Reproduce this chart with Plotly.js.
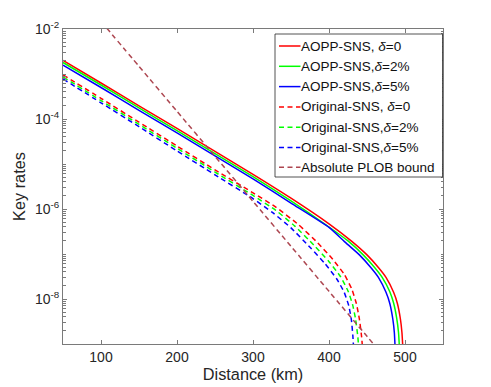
<!DOCTYPE html>
<html>
<head>
<meta charset="utf-8">
<script src="https://cdn.plot.ly/plotly-3.0.1.min.js"></script>
<style>html,body{margin:0;padding:0;background:#fff;}#chart{width:491px;height:387px;}</style>
</head>
<body>
<div id="chart"></div>
<script>
// AOPP-SNS, delta = 0
const aopp0_x = [50, 100, 150, 200, 250, 300, 350, 400, 430, 450, 465, 475, 485, 490, 494, 496, 497.5];
const aopp0_y = [2.00e-3, 6.31e-4, 1.95e-4, 6.17e-5, 1.91e-5, 5.89e-6, 1.74e-6, 4.68e-7, 1.91e-7, 9.55e-8, 5.01e-8, 3.02e-8, 1.41e-8, 7.94e-9, 3.55e-9, 1.78e-9, 6.3e-10];
// AOPP-SNS, delta = 2%
const aopp2_x = [50, 100, 150, 200, 250, 300, 350, 400, 425, 445, 460, 470, 480, 485, 489, 491.5, 493];
const aopp2_y = [1.80e-3, 5.69e-4, 1.76e-4, 5.50e-5, 1.70e-5, 5.25e-6, 1.51e-6, 3.98e-7, 1.95e-7, 9.55e-8, 5.01e-8, 3.02e-8, 1.45e-8, 8.13e-9, 3.80e-9, 1.78e-9, 6.3e-10];
// AOPP-SNS, delta = 5%
const aopp5_x = [50, 100, 150, 200, 250, 300, 350, 400, 420, 440, 455, 465, 475, 480, 484, 486, 487.3];
const aopp5_y = [1.58e-3, 5.01e-4, 1.55e-4, 4.90e-5, 1.51e-5, 4.68e-6, 1.35e-6, 3.89e-7, 1.91e-7, 9.55e-8, 5.01e-8, 3.02e-8, 1.41e-8, 7.94e-9, 3.55e-9, 1.78e-9, 6.3e-10];
// Original-SNS, delta = 0
const orig0_x = [50, 100, 150, 200, 250, 300, 330, 360, 385, 405, 420, 430, 436, 440, 443, 444.5];
const orig0_y = [9.55e-4, 2.88e-4, 8.51e-5, 2.51e-5, 7.41e-6, 2.29e-6, 1.10e-6, 4.47e-7, 1.78e-7, 7.59e-8, 3.55e-8, 1.66e-8, 7.94e-9, 3.55e-9, 1.41e-9, 6.3e-10];
// Original-SNS, delta = 2%
const orig2_x = [50, 100, 150, 200, 250, 300, 330, 355, 380, 400, 415, 425, 431, 435, 438, 439.5];
const orig2_y = [8.61e-4, 2.57e-4, 7.59e-5, 2.24e-5, 6.61e-6, 2.00e-6, 9.33e-7, 4.17e-7, 1.58e-7, 6.76e-8, 3.16e-8, 1.51e-8, 7.59e-9, 3.55e-9, 1.41e-9, 6.3e-10];
// Original-SNS, delta = 5%
const orig5_x = [50, 100, 150, 200, 250, 300, 325, 350, 375, 395, 410, 420, 426, 429.5, 431.3, 432.8];
const orig5_y = [7.76e-4, 2.29e-4, 6.76e-5, 1.95e-5, 5.75e-6, 1.70e-6, 8.51e-7, 3.80e-7, 1.41e-7, 6.03e-8, 2.82e-8, 1.41e-8, 7.08e-9, 3.39e-9, 1.58e-9, 6.3e-10];
// Absolute PLOB bound
const plob_x = [100, 150, 200, 250, 300, 350, 400, 450, 465];
const plob_y = [1.48e-2, 1.48e-3, 1.48e-4, 1.48e-5, 1.48e-6, 1.48e-7, 1.48e-8, 1.48e-9, 7.4e-10];

const names = [
  'AOPP-SNS, <i>δ</i>=0',
  'AOPP-SNS,<i>δ</i>=2%',
  'AOPP-SNS,<i>δ</i>=5%',
  'Original-SNS, <i>δ</i>=0',
  'Original-SNS,<i>δ</i>=2%',
  'Original-SNS,<i>δ</i>=5%',
  'Absolute PLOB bound'
];
const xTicks = [100, 200, 300, 400, 500];
const yTicks = [1e-8, 1e-6, 1e-4, 1e-2];
const yTickText = ['10<sup>-8</sup>', '10<sup>-6</sup>', '10<sup>-4</sup>', '10<sup>-2</sup>'];

const RED = '#ff0000', GREEN = '#00ff00', BLUE = '#0000ff', PLOB = '#ad4650';
const DASH = '5px,3.5px';
const colors = [RED, GREEN, BLUE, RED, GREEN, BLUE, PLOB];
const dashes = ['solid', 'solid', 'solid', DASH, DASH, DASH, DASH];
const xs = [aopp0_x, aopp2_x, aopp5_x, orig0_x, orig2_x, orig5_x, plob_x];
const ys = [aopp0_y, aopp2_y, aopp5_y, orig0_y, orig2_y, orig5_y, plob_y];

const data = xs.map((x, i) => ({
  x: x, y: ys[i], name: names[i], type: 'scatter', mode: 'lines',
  line: {color: colors[i], width: 1.5, dash: dashes[i], shape: 'spline', smoothing: 0.5},
  showlegend: false
}));

// Legend drawn in MATLAB style (pixel geometry -> paper coordinates)
const W = 491, H = 387, ML = 63, MR = 48, MT = 29, MB = 43;
const PW = W - ML - MR, PH = H - MT - MB;
const px2x = p => (p - ML) / PW;
const py2y = p => (H - MB - p) / PH;
const FONT = 'Liberation Sans, Arial, sans-serif';
const rowY = [46, 66.3, 86.6, 106.9, 127.2, 147.4, 167.2];
const shapes = [{type: 'rect', xref: 'paper', yref: 'paper',
  x0: px2x(275), x1: px2x(442.5), y0: py2y(177), y1: py2y(34),
  line: {color: '#262626', width: 0.8}, fillcolor: '#ffffff', layer: 'above'}];
const annotations = [];
names.forEach((n, i) => {
  shapes.push({type: 'line', xref: 'paper', yref: 'paper', layer: 'above',
    x0: px2x(279), x1: px2x(300.5), y0: py2y(rowY[i]), y1: py2y(rowY[i]),
    line: {color: colors[i], width: 1.5, dash: dashes[i]}});
  annotations.push({xref: 'paper', yref: 'paper', x: px2x(300), y: py2y(rowY[i]),
    xanchor: 'left', yanchor: 'middle', showarrow: false, text: n,
    font: {family: FONT, size: 13.5, color: '#111'}, borderpad: 0});
});

// minor tick positions on the log axis
const minorY = [];
for (let e = -9; e < -2; e++) for (let m = 1; m <= 9; m++) minorY.push(m * Math.pow(10, e));

const AX = '#7a7a7a';
const layout = {
  width: W, height: H,
  margin: {l: ML, r: MR, t: MT, b: MB},
  paper_bgcolor: '#fff', plot_bgcolor: '#fff',
  font: {family: FONT, size: 14, color: '#262626'},
  showlegend: false,
  shapes: shapes, annotations: annotations,
  xaxis: {range: [50, 550], tickmode: 'array', tickvals: xTicks,
    ticks: 'inside', ticklen: 4, tickcolor: AX, showline: true, linecolor: AX, linewidth: 1,
    mirror: 'ticks', showgrid: false, zeroline: false,
    tickfont: {size: 14, color: '#262626'},
    title: {text: 'Distance (km)', font: {size: 16.3, color: '#262626'}, standoff: 3}},
  yaxis: {type: 'log', range: [-9, -2], tickmode: 'array', tickvals: yTicks, ticktext: yTickText,
    ticks: 'inside', ticklen: 4, tickcolor: AX, showline: true, linecolor: AX, linewidth: 1,
    mirror: 'ticks', showgrid: false, zeroline: false,
    minor: {ticks: 'inside', ticklen: 2.5, tickcolor: AX, tickmode: 'array', tickvals: minorY, showgrid: false},
    tickfont: {size: 14, color: '#262626'},
    title: {text: 'Key rates', font: {size: 16.3, color: '#262626'}, standoff: 5}}
};
Plotly.newPlot('chart', data, layout, {displayModeBar: false, staticPlot: true});
</script>
</body>
</html>
